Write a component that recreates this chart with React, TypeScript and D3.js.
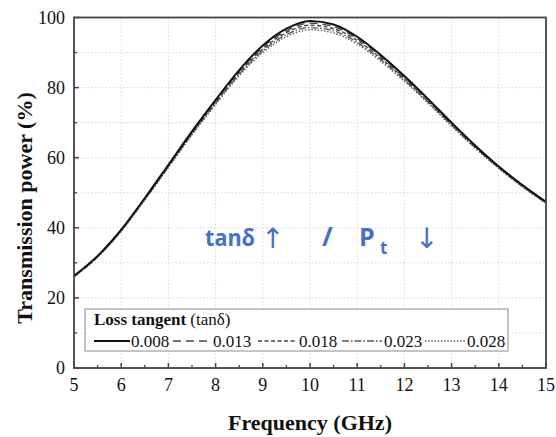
import React from 'react';
import * as d3 from 'd3';

const freq = [5, 5.5, 6, 6.5, 7, 7.5, 8, 8.5, 9, 9.5, 10, 10.5, 11, 11.5, 12, 12.5, 13, 13.5, 14, 14.5, 15];
const tan008 = [26.3, 32.0, 39.5, 48.5, 58.0, 67.5, 76.5, 85.0, 92.0, 96.8, 99.0, 98.0, 94.5, 89.3, 83.3, 76.8, 70.0, 63.5, 57.5, 52.2, 47.4];
const tan013 = [26.2, 31.9, 39.4, 48.4, 57.8, 67.3, 76.2, 84.6, 91.5, 96.2, 98.4, 97.4, 94.0, 88.9, 82.9, 76.5, 69.8, 63.3, 57.4, 52.1, 47.3];
const tan018 = [26.1, 31.8, 39.3, 48.2, 57.6, 67.0, 75.9, 84.2, 91.0, 95.7, 97.8, 96.8, 93.5, 88.4, 82.6, 76.2, 69.5, 63.1, 57.2, 52.0, 47.2];
const tan023 = [26.1, 31.7, 39.1, 48.1, 57.4, 66.8, 75.5, 83.8, 90.5, 95.1, 97.1, 96.2, 92.9, 88.0, 82.2, 75.9, 69.3, 62.9, 57.1, 51.8, 47.1];
const tan028 = [26.0, 31.6, 39.0, 47.9, 57.2, 66.5, 75.2, 83.4, 90.0, 94.5, 96.5, 95.6, 92.4, 87.5, 81.8, 75.6, 69.0, 62.7, 56.9, 51.7, 47.0];
const seriesNames = ['0.008', '0.013', '0.018', '0.023', '0.028'];
const seriesValues = [tan008, tan013, tan018, tan023, tan028];
const xTicks = [5, 6, 7, 8, 9, 10, 11, 12, 13, 14, 15];
const xMinor = [5.5, 6.5, 7.5, 8.5, 9.5, 10.5, 11.5, 12.5, 13.5, 14.5];
const yTicks = [0, 20, 40, 60, 80, 100];
const yMinor = [10, 30, 50, 70, 90];
const yGrid = [10, 20, 30, 40, 50, 60, 70, 80, 90];
const xGrid = [6, 7, 8, 9, 10, 11, 12, 13, 14];

const styles = [
  { stroke: '#111', width: 1.9, dash: '' },
  { stroke: '#444', width: 1.4, dash: '8,5' },
  { stroke: '#444', width: 1.4, dash: '4,2.5' },
  { stroke: '#555', width: 1.3, dash: '7,2,1.5,2' },
  { stroke: '#555', width: 1.4, dash: '1.4,1.8' },
];

const legendPos = [
  { x1: 94, x2: 130, tx: 131 },
  { x1: 173, x2: 212, tx: 213 },
  { x1: 258, x2: 297, tx: 299 },
  { x1: 342, x2: 382, tx: 384 },
  { x1: 425, x2: 465, tx: 467 },
];

export default function App() {
  const W = 556, H = 437;
  const L = 74, R = 546, T = 17.5, B = 368;
  const x = d3.scaleLinear().domain([5, 15]).range([L, R]);
  const y = d3.scaleLinear().domain([0, 100]).range([B, T]);
  const line = d3.line<number>().x((_, i) => x(freq[i])).y((d) => y(d)).curve(d3.curveMonotoneX);
  const serif = 'Liberation Serif';
  const sans = 'Open Sans';
  const blue = '#4472C4';
  const order = [4, 3, 2, 1, 0];
  return (
    <svg width={W} height={H} style={{ position: 'absolute', left: 0, top: 0, background: '#fff' }}>
      <rect x={0} y={0} width={W} height={H} fill="#fff" />
      {yGrid.map((v) => (
        <line key={'gy' + v} x1={L} x2={R} y1={y(v)} y2={y(v)} stroke="#d8d8d8" strokeWidth={1} strokeDasharray="1.5,2" />
      ))}
      {xGrid.map((v) => (
        <line key={'gx' + v} x1={x(v)} x2={x(v)} y1={T} y2={B} stroke="#d8d8d8" strokeWidth={1} strokeDasharray="1.5,2" />
      ))}
      {order.map((k) => (
        <path key={'s' + k} d={line(seriesValues[k]) || ''} fill="none" stroke={styles[k].stroke}
          strokeWidth={styles[k].width} strokeDasharray={styles[k].dash} strokeLinejoin="round" />
      ))}
      <text x={205} y={246} fill={blue} style={{ fontFamily: sans }} fontSize={24} fontWeight={700}
        textLength={50} lengthAdjust="spacingAndGlyphs">tanδ</text>
      <text x={261} y={248} fill={blue} style={{ fontFamily: 'DejaVu Sans' }} fontSize={28} fontWeight={400}>↑</text>
      <text x={322} y={246} fill={blue} style={{ fontFamily: sans }} fontSize={26} fontWeight={700}>/</text>
      <text x={359} y={246} fill={blue} style={{ fontFamily: sans }} fontSize={25} fontWeight={700}>P</text>
      <text x={380} y={254} fill={blue} style={{ fontFamily: sans }} fontSize={17} fontWeight={700}>t</text>
      <text x={415} y={248} fill={blue} style={{ fontFamily: 'DejaVu Sans' }} fontSize={28} fontWeight={400}>↓</text>
      <rect x={85} y={309} width={423} height={42} fill="#fff" stroke="#8a8a8a" strokeWidth={1} />
      <text x={94} y={325} style={{ fontFamily: serif }} fontSize={17} fill="#111">
        <tspan fontWeight={700}>Loss tangent</tspan>
        <tspan> (tanδ)</tspan>
      </text>
      {seriesNames.map((n, k) => (
        <g key={'lg' + k}>
          <line x1={legendPos[k].x1} x2={legendPos[k].x2} y1={341} y2={341} stroke={styles[k].stroke}
            strokeWidth={styles[k].width} strokeDasharray={styles[k].dash} />
          <text x={legendPos[k].tx} y={346.5} style={{ fontFamily: serif }} fontSize={17} fill="#111">{n}</text>
        </g>
      ))}
      <rect x={L} y={T} width={R - L} height={B - T} fill="none" stroke="#444" strokeWidth={1.8} />
      {xTicks.map((v) => (
        <line key={'xt' + v} x1={x(v)} x2={x(v)} y1={B} y2={B - 5} stroke="#444" strokeWidth={1.5} />
      ))}
      {xMinor.map((v) => (
        <line key={'xm' + v} x1={x(v)} x2={x(v)} y1={B} y2={B - 3} stroke="#444" strokeWidth={1.3} />
      ))}
      {yTicks.map((v) => (
        <line key={'yt' + v} x1={L} x2={L + 5} y1={y(v)} y2={y(v)} stroke="#444" strokeWidth={1.5} />
      ))}
      {yMinor.map((v) => (
        <line key={'ym' + v} x1={L} x2={L + 3} y1={y(v)} y2={y(v)} stroke="#444" strokeWidth={1.3} />
      ))}
      {xTicks.map((v) => (
        <text key={'xl' + v} x={x(v)} y={391} textAnchor="middle" style={{ fontFamily: serif }} fontSize={18} fill="#111">{v}</text>
      ))}
      {yTicks.map((v) => (
        <text key={'yl' + v} x={65} y={y(v) + 6} textAnchor="end" style={{ fontFamily: serif }} fontSize={18} fill="#111">{v}</text>
      ))}
      <text x={310} y={430} textAnchor="middle" style={{ fontFamily: serif }} fontSize={22} fontWeight={700} fill="#111">Frequency (GHz)</text>
      <text transform="translate(32,208) rotate(-90)" textAnchor="middle" style={{ fontFamily: serif }} fontSize={22} fontWeight={700} fill="#111">Transmission power (%)</text>
    </svg>
  );
}
